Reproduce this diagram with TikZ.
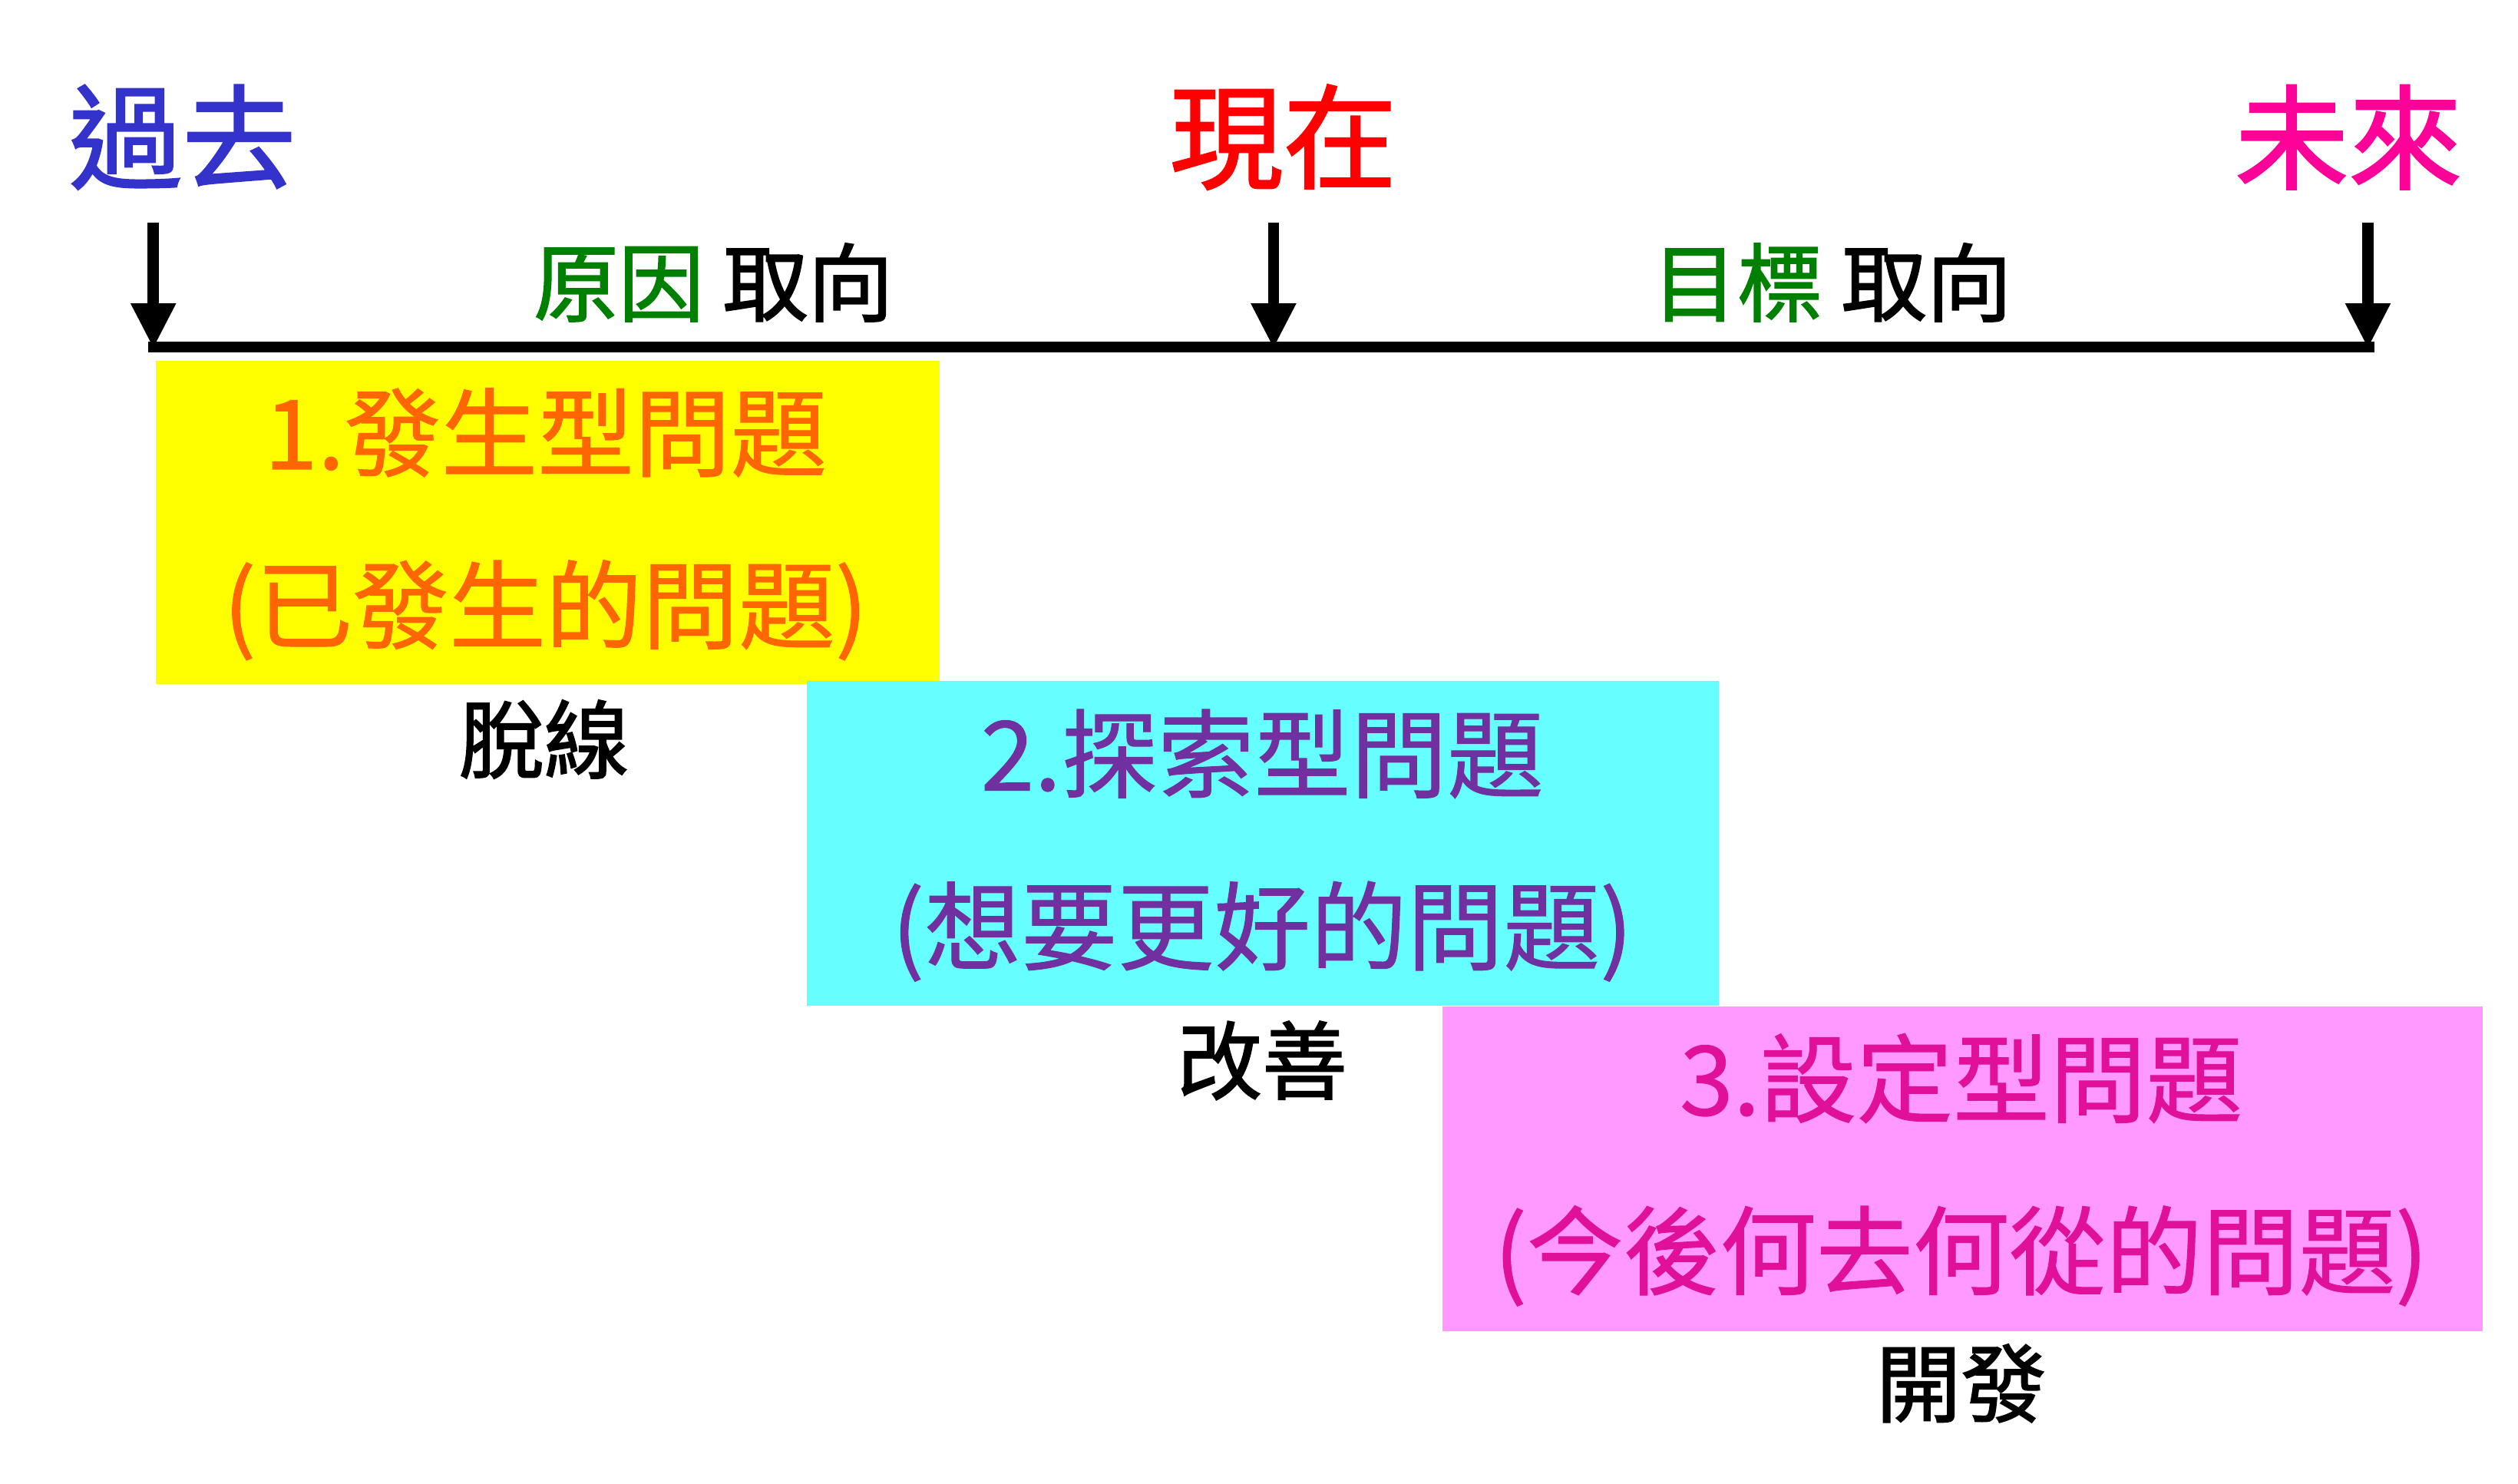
\documentclass[tikz,border=0pt]{standalone}
\usepackage{fontspec}
\setmainfont{Noto Sans CJK TC}
\newfontfamily\med[FakeBold=1.6]{Noto Sans CJK TC}
\newfontfamily\semi[FakeBold=0.8]{Noto Sans CJK TC}
\usetikzlibrary{arrows.meta}
\definecolor{pastblue}{HTML}{3333CC}
\definecolor{futmag}{HTML}{FF0099}
\definecolor{grn}{HTML}{008000}
\definecolor{org}{HTML}{FF6600}
\definecolor{pur}{HTML}{7030A0}
\definecolor{mag}{HTML}{E0109A}
\definecolor{ylw}{HTML}{FFFF00}
\definecolor{cyn}{HTML}{66FFFF}
\definecolor{pnk}{HTML}{FF99FF}
\begin{document}
\begin{tikzpicture}[x=0.01cm,y=-0.01cm,
  title/.style={font=\fontsize{20}{22}\selectfont\med},
  axl/.style={font=\fontsize{15}{17}\selectfont\med},
  btxt/.style={font=\fontsize{17}{19}\selectfont\semi},
  lab/.style={font=\fontsize{15}{17}\selectfont\med},
  arr/.style={line width=0.07cm,-{Triangle[length=0.28cm,width=0.26cm]}}]
\useasboundingbox (0,0) rectangle (1560,919);
\node[title,text=pastblue] (past) at (113,85) {過去};
\node[title,text=red] (now) at (795,85) {現在};
\node[title,text=futmag] (fut) at (1455,85) {未來};
\coordinate (a1s) at (95,138); \coordinate (a1e) at (95,216);
\coordinate (a2s) at (789,138); \coordinate (a2e) at (789,216);
\coordinate (a3s) at (1467,138); \coordinate (a3e) at (1467,216);
\draw[arr] (a1s) -- (a1e);
\draw[arr] (a2s) -- (a2e);
\draw[arr] (a3s) -- (a3e);
\coordinate (ls) at (92,215); \coordinate (le) at (1471,215);
\draw[line width=0.07cm] (ls) -- (le);
\node[axl] (cause) at (442,175) {\textcolor{grn}{原因} 取向};
\node[axl] (goal) at (1135,175) {\textcolor{grn}{目標} 取向};
\node[fill=ylw,minimum width=4.85cm,minimum height=2cm,anchor=north west,inner sep=0] (b1) at (96,223) {};
\node[btxt,text=org] (t1a) at (338,268) {1.發生型問題};
\node[btxt,text=org] (t1b) at (338,378) {(已發生的問題)};
\node[lab] (l1) at (337,458) {脫線};
\node[fill=cyn,minimum width=5.65cm,minimum height=2.01cm,anchor=north west,inner sep=0] (b2) at (499,421) {};
\node[btxt,text=pur] (t2a) at (782,467) {2.探索型問題};
\node[btxt,text=pur] (t2b) at (782,577) {(想要更好的問題)};
\node[lab] (l2) at (782,657) {改善};
\node[fill=pnk,minimum width=6.44cm,minimum height=2.01cm,anchor=north west,inner sep=0] (b3) at (893,623) {};
\node[btxt,text=mag] (t3a) at (1215,668) {3.設定型問題};
\node[btxt,text=mag] (t3b) at (1215,778) {(今後何去何從的問題)};
\node[lab] (l3) at (1215,857) {開發};
\end{tikzpicture}
\end{document}
